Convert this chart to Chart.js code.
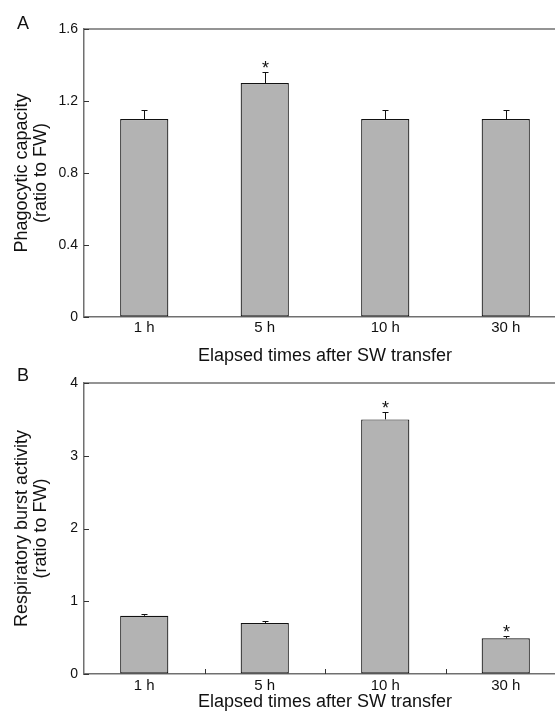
<!DOCTYPE html>
<html lang="en">
<head>
  <meta charset="utf-8">
  <title>Phagocytic capacity and respiratory burst after SW transfer</title>
  <script src="https://cdn.jsdelivr.net/npm/chart.js@4.4.1/dist/chart.umd.min.js"></script>
  <style>
    html, body { margin: 0; padding: 0; background: #fff; overflow: hidden; }
    #wrap { position: relative; width: 555px; height: 715px; overflow: hidden; }
    canvas { position: absolute; left: 0; }
    #chartA { top: 0; }
    #chartB { top: 362px; }
  </style>
</head>
<body>
  <div id="wrap">
    <canvas id="chartA" width="566" height="370"></canvas>
    <canvas id="chartB" width="566" height="353"></canvas>
  </div>
  <script>
    // data
    var categories = ['1 h', '5 h', '10 h', '30 h'];

    var phagoMean = [1.1, 1.3, 1.1, 1.1];
    var phagoErr = [0.05, 0.06, 0.05, 0.05];
    var phagoStar = [false, true, false, false];
    var phagoTicks = [0, 0.4, 0.8, 1.2, 1.6];

    var burstMean = [0.8, 0.7, 3.5, 0.49];
    var burstErr = [0.03, 0.025, 0.1, 0.03];
    var burstStar = [false, false, true, true];
    var burstTicks = [0, 1, 2, 3, 4];

    var FONT = '"Liberation Sans", Arial, Helvetica, sans-serif';
    var AXIS = '#707070';
    var INK = '#111';

    // top frame line, inward ticks, error bars, asterisks, panel letter
    function makeDecor(cfg) {
      return {
        id: 'decor',
        afterDatasetsDraw: function (chart) {
          var ctx = chart.ctx;
          var area = chart.chartArea;
          var xs = chart.scales.x;
          var ys = chart.scales.y;
          var meta = chart.getDatasetMeta(0);
          ctx.save();

          ctx.strokeStyle = AXIS;
          ctx.lineWidth = 1.5;
          ctx.beginPath();
          ctx.moveTo(area.left, area.top);
          ctx.lineTo(chart.width, area.top);
          ctx.stroke();

          // y ticks pointing into the plot
          ctx.lineWidth = 1;
          ctx.strokeStyle = '#333';
          ys.ticks.forEach(function (t) {
            var py = Math.round(ys.getPixelForValue(t.value)) + 0.5;
            ctx.beginPath();
            ctx.moveTo(area.left, py);
            ctx.lineTo(area.left + 5, py);
            ctx.stroke();
          });

          // x ticks between categories (panel B only)
          if (cfg.xTicks) {
            for (var i = 0; i < categories.length - 1; i++) {
              var px = Math.round((xs.getPixelForValue(i) + xs.getPixelForValue(i + 1)) / 2) + 0.5;
              ctx.beginPath();
              ctx.moveTo(px, area.bottom);
              ctx.lineTo(px, area.bottom - 5);
              ctx.stroke();
            }
          }

          // error bars + significance marks
          ctx.strokeStyle = '#111';
          ctx.fillStyle = INK;
          ctx.font = '18px ' + FONT;
          ctx.textAlign = 'center';
          ctx.textBaseline = 'alphabetic';
          cfg.means.forEach(function (m, i) {
            var bx = Math.round(meta.data[i].x) + 0.5;
            var top = ys.getPixelForValue(m);
            var et = Math.round(ys.getPixelForValue(m + cfg.errs[i])) + 0.5;
            ctx.beginPath();
            ctx.moveTo(bx, top);
            ctx.lineTo(bx, et);
            ctx.moveTo(bx - 3, et);
            ctx.lineTo(bx + 3, et);
            ctx.stroke();
            if (cfg.stars[i]) {
              ctx.fillText('*', bx, et + 1);
            }
          });

          // panel letter
          ctx.font = '18px ' + FONT;
          ctx.textAlign = 'left';
          ctx.textBaseline = 'middle';
          ctx.fillText(cfg.letter, 17, cfg.letterY);
          ctx.restore();
        }
      };
    }

    function makeChart(id, opts) {
      return new Chart(document.getElementById(id), {
        type: 'bar',
        data: {
          labels: categories,
          datasets: [{
            data: opts.means,
            backgroundColor: '#b3b3b3',
            borderColor: '#111',
            borderWidth: 1.2,
            borderSkipped: false,
            barPercentage: 0.4,
            categoryPercentage: 1.0
          }]
        },
        options: {
          responsive: false,
          animation: false,
          devicePixelRatio: 1,
          layout: { padding: { top: opts.padTop, left: 0, right: 0, bottom: 0 } },
          plugins: { legend: { display: false }, tooltip: { enabled: false } },
          scales: {
            x: {
              afterFit: function (s) { s.height = opts.xHeight; },
              border: { display: true, color: AXIS, width: 1.5 },
              grid: { display: true, drawOnChartArea: false, drawTicks: false },
              ticks: { padding: opts.xTickPad, color: INK, font: { family: FONT, size: 15 } },
              title: {
                display: true,
                text: 'Elapsed times after SW transfer',
                color: INK,
                font: { family: FONT, size: 18, lineHeight: 1.2 },
                padding: { top: 0, bottom: opts.xTitlePad }
              }
            },
            y: {
              min: 0,
              max: opts.ticks[opts.ticks.length - 1],
              afterFit: function (s) { s.width = 84; },
              afterBuildTicks: function (s) {
                s.ticks = opts.ticks.map(function (v) { return { value: v }; });
              },
              border: { display: true, color: AXIS, width: 1.5 },
              grid: { display: true, drawOnChartArea: false, drawTicks: false },
              ticks: {
                padding: 6,
                color: INK,
                font: { family: FONT, size: 14 },
                callback: function (v) { return String(v); }
              },
              title: {
                display: true,
                text: opts.yTitle,
                color: INK,
                font: { family: FONT, size: 18, lineHeight: 1.05 },
                padding: { top: 13, bottom: 0 }
              }
            }
          }
        },
        plugins: [makeDecor(opts)]
      });
    }

    makeChart('chartA', {
      means: phagoMean, errs: phagoErr, stars: phagoStar, ticks: phagoTicks,
      yTitle: ['Phagocytic capacity', '(ratio to FW)'],
      letter: 'A', letterY: 24, xTicks: false,
      padTop: 29, xHeight: 53, xTickPad: 2, xTitlePad: 3
    });

    makeChart('chartB', {
      means: burstMean, errs: burstErr, stars: burstStar, ticks: burstTicks,
      yTitle: ['Respiratory burst activity', '(ratio to FW)'],
      letter: 'B', letterY: 14, xTicks: true,
      padTop: 21, xHeight: 41, xTickPad: 3, xTitlePad: 2
    });
  </script>
</body>
</html>
